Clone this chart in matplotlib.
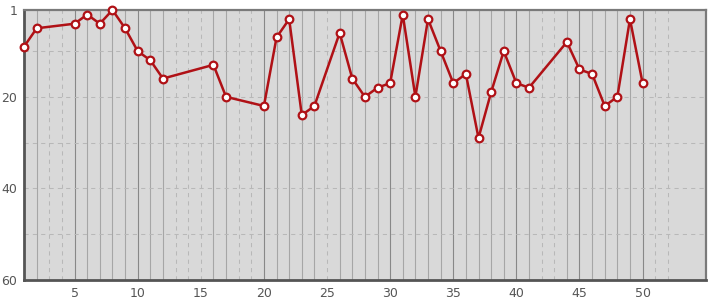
import matplotlib
matplotlib.use("Agg")
import matplotlib.pyplot as plt
import numpy as np

# matchday -> position
rounds = [1, 2, 5, 6, 7, 8, 9, 10, 11, 12, 16, 17, 20, 21, 22, 23, 24, 26, 27, 28,
          29, 30, 31, 32, 33, 34, 35, 36, 37, 38, 39, 40, 41, 44, 45, 46, 47, 48, 49, 50]
position = [9, 5, 4, 2, 4, 1, 5, 10, 12, 16, 13, 20, 22, 7, 3, 24, 22, 6, 16, 20,
            18, 17, 2, 20, 3, 10, 17, 15, 29, 19, 10, 17, 18, 8, 14, 15, 22, 20, 3, 17]

xticks = [5, 10, 15, 20, 25, 30, 35, 40, 45, 50]
yticks = [1, 20, 40, 60]
hgrid = [10, 20, 30, 40, 50]

fig = plt.figure(figsize=(7.15, 3.0), dpi=100)
ax = fig.add_axes([0.0337, 0.0677, 0.9533, 0.899])
ax.set_facecolor("#d9d9d9")

ax.set_xlim(1, 55)
ax.set_ylim(60, 1)

# vertical grid: solid where a match was played, dashed otherwise
for i in range(2, 53):
    if i in rounds:
        if i % 5 == 0:
            ax.axvline(i, color="#888888", lw=0.8, zorder=1)
        else:
            ax.axvline(i, color="#a6a6a6", lw=0.8, zorder=1)
    else:
        ax.axvline(i, color="#b8b8b8", lw=0.75, ls=(0, (4, 4)), zorder=1)

for y in hgrid:
    ax.axhline(y, color="#b8b8b8", lw=0.75, ls=(0, (4, 4)), zorder=1)

ax.plot(rounds, position, color="#b01116", lw=1.8, marker="o", ms=5.5,
        mfc="white", mec="#b01116", mew=1.6, zorder=3, clip_on=False)

ax.set_xticks(xticks)
ax.set_yticks(yticks)
ax.tick_params(length=0, labelsize=9, colors="#555555", pad=5)

for side in ["left", "bottom"]:
    ax.spines[side].set_color("#555555")
    ax.spines[side].set_linewidth(2)
for side in ["top", "right"]:
    ax.spines[side].set_color("#7a7a7a")
    ax.spines[side].set_linewidth(1.6)

fig.savefig("out.png", dpi=100)
